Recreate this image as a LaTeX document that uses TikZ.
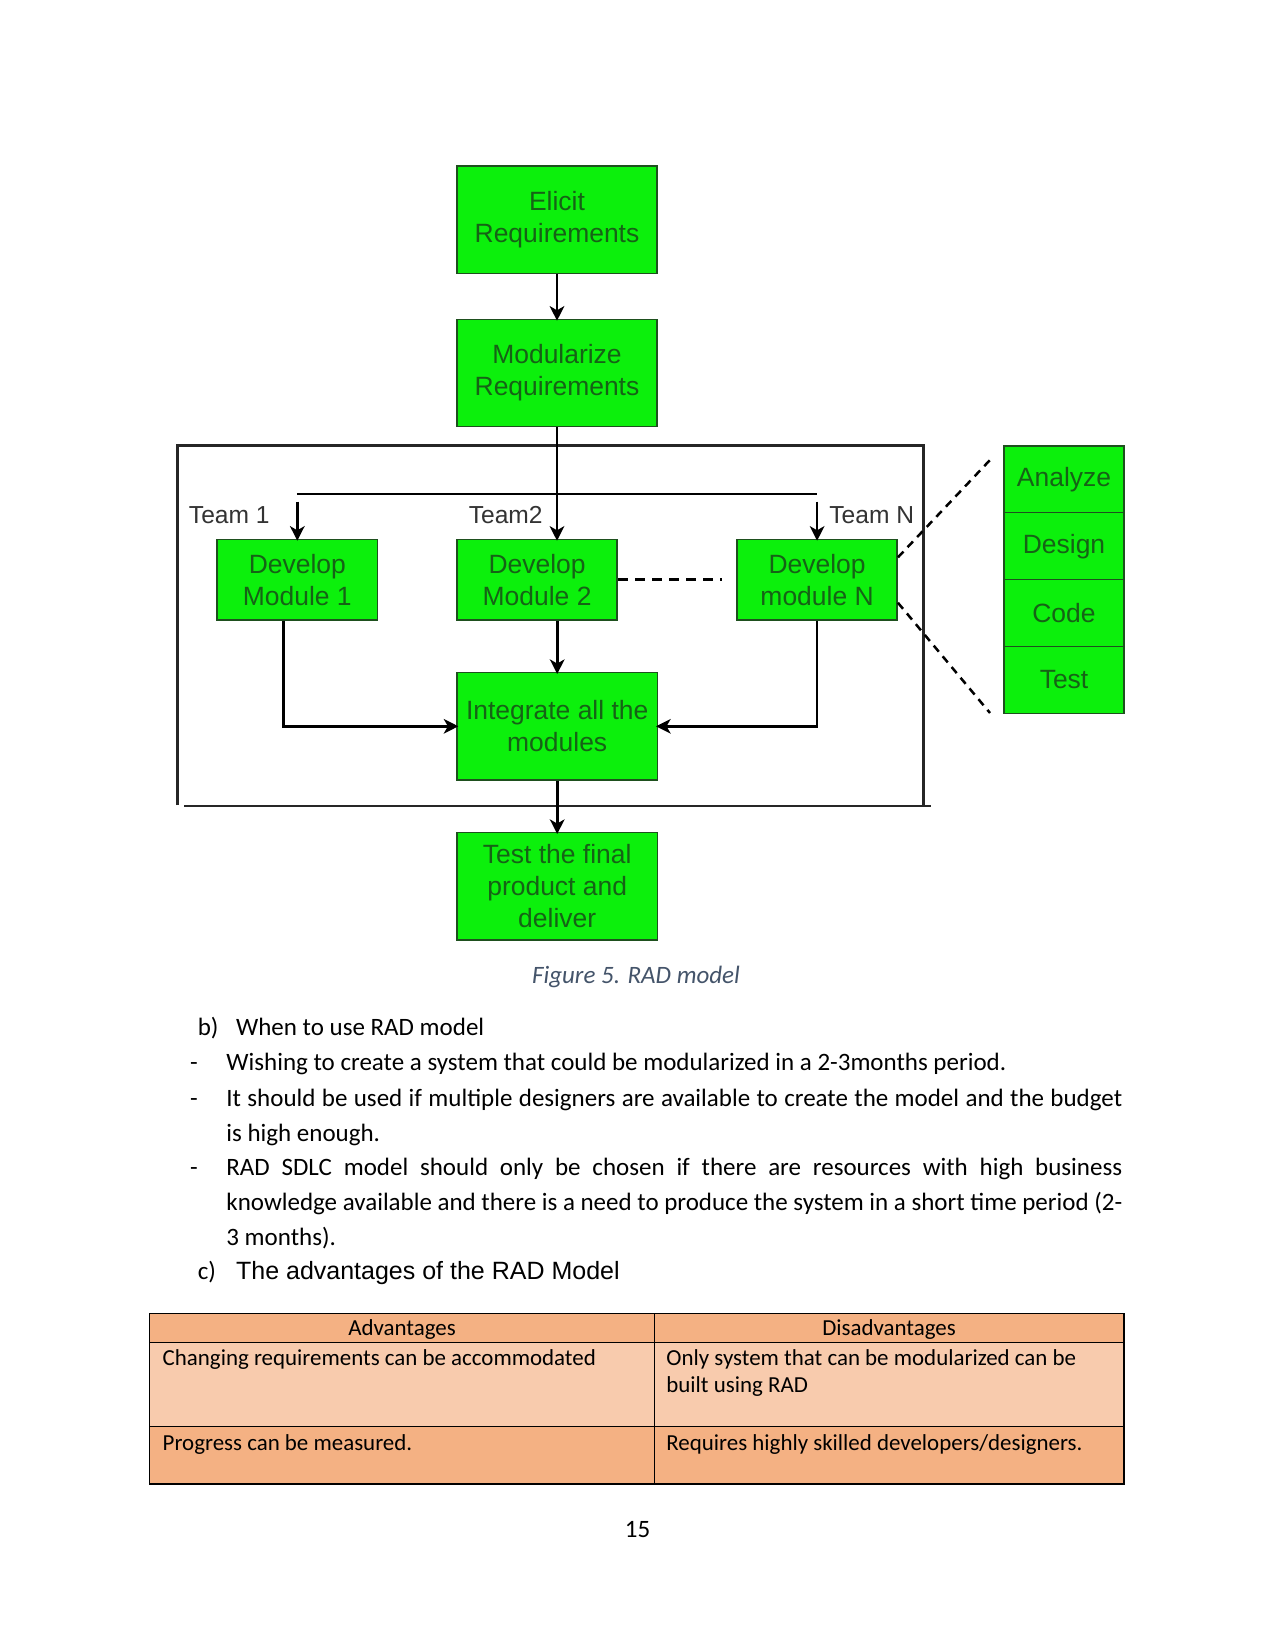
\documentclass[tikz,border=0pt]{standalone}
\usepackage{fontspec}
\setmainfont{Carlito}
\newfontfamily\diagfont{Liberation Sans}
\usetikzlibrary{arrows.meta,calc}
\definecolor{gfill}{RGB}{12,240,12}
\definecolor{gline}{RGB}{30,80,30}
\definecolor{gtext}{RGB}{22,98,22}
\definecolor{teamtext}{RGB}{51,51,51}
\definecolor{captext}{RGB}{68,84,106}
\definecolor{thead}{RGB}{244,177,131}
\definecolor{tlight}{RGB}{248,203,173}
\begin{document}
\begin{tikzpicture}[x=0.48pt,y=-0.48pt,
  gbox/.style={draw=gline, fill=gfill, line width=0.7pt, text=gtext,
    font=\diagfont\fontsize{12.7pt}{15.4pt}\selectfont, align=center, inner sep=0pt},
  bigbox/.style={gbox, minimum width=96.2pt, minimum height=51.5pt},
  devbox/.style={gbox, minimum width=76.9pt, minimum height=38.7pt},
  cellbox/.style={gbox, minimum width=57.6pt, minimum height=32.1pt},
  flow/.style={line width=1.3pt, -{Stealth[length=7pt,width=7pt,inset=2pt]}, shorten >=-1pt},
  wire/.style={line width=1.3pt},
  framestyle/.style={line width=1.3pt, draw=black!85},
  teamlbl/.style={font=\diagfont\fontsize{11.8pt}{14pt}\selectfont, text=teamtext, inner sep=0pt},
  dashA/.style={line width=1.2pt, dash pattern=on 4.8pt off 3.4pt},
  dashB/.style={line width=1.2pt, dash pattern=on 3.8pt off 2.9pt},
  body/.style={font=\fontsize{12pt}{16.8pt}\selectfont, inner sep=0pt},
  para/.style={body, text width=430pt, align=justify},
  headc/.style={font=\diagfont\fontsize{12pt}{14pt}\selectfont, inner sep=0pt},
  capstyle/.style={font=\fontsize{12pt}{14pt}\selectfont\itshape, text=captext, inner sep=0pt},
  tabtxt/.style={font=\fontsize{11pt}{13.4pt}\selectfont, inner sep=0pt},
  tline/.style={line width=0.6pt, draw=black}
]
\useasboundingbox (0,0) rectangle (1275,1651);
\fill[white] (0,0) rectangle (1275,1651);

% ---------- diagram boxes ----------
\node[bigbox] (elicit) at (557,219.7) {Elicit\\Requirements};
\node[bigbox] (modul) at (557,373) {Modularize\\Requirements};
\node[devbox] (dev1) at (297.3,579.7) {Develop\\Module 1};
\node[devbox] (dev2) at (537.1,579.7) {Develop\\Module 2};
\node[devbox] (devN) at (817.1,579.7) {Develop\\module N};
\node[bigbox] (integ) at (557.2,726.3) {Integrate all the\\modules};
\node[bigbox] (test) at (557.2,886.3) {Test the final\\product and\\deliver};

\node[cellbox] (analyze) at (1064,479.4) {Analyze};
\node[cellbox] (design) at (1064,546.2) {Design};
\node[cellbox] (code) at (1064,613) {Code};
\node[cellbox] (testc) at (1064,679.9) {Test};

% ---------- frame ----------
\draw[framestyle] (177.4,805) -- (177.4,445.7) -- (923.5,445.7) -- (923.5,806);
\draw[framestyle] (184,806) -- (931,806);

% ---------- connectors ----------
\draw[flow] (elicit) -- (modul);
\draw[flow] (modul.south) -- (modul.south |- dev2.north);
\coordinate (barL) at (296.8,494);
\coordinate (barR) at (817.1,494);
\draw[wire] (barL) -- (barR);
\coordinate (t1) at (297.3,501.5);
\coordinate (tN) at (817.1,501.5);
\draw[flow] (t1) -- (dev1.north);
\draw[flow] (tN) -- (devN.north);
\coordinate (dashEnd) at (722,579.7);
\draw[dashA] (dev2.east) -- (dashEnd);
\draw[flow] ($(dev1.south)+(-14,0)$) |- (integ.west);
\draw[flow] (devN.south) |- (integ.east);
\draw[flow] (integ.north |- dev2.south) -- (integ.north);
\draw[flow] (integ) -- (test);
\coordinate (zu) at (990,460);
\coordinate (zl) at (990,713);
\draw[dashB] ($(devN.north east)+(0,18.7)$) -- (zu);
\draw[dashB] ($(devN.south east)+(0,-18)$) -- (zl);

% ---------- team labels ----------
\node[teamlbl, anchor=base east] (team1) at (270,523) {Team 1};
\node[teamlbl, anchor=base east] (team2) at (543,523) {Team2};
\node[teamlbl, anchor=base west] (teamN) at (829,523) {Team N};

% ---------- caption ----------
\node[capstyle, anchor=base] (cap) at (636,983) {Figure 5. RAD model};

% ---------- body text ----------
\node[body, anchor=base west] (lb) at (197.4,1035) {b)};
\node[body, anchor=base west] (hb) at (235.7,1035) {When to use RAD model};
\node[body, anchor=base west] (d1) at (189.7,1070.7) {-};
\node[para, anchor=base west] (p1) at (226,1070.7) {Wishing to create a system that could be modularized in a 2-3months period.};
\node[body, anchor=base west] (d2) at (189.7,1106) {-};
\node[para, anchor=base west] (p2) at (226,1106) {It should be used if multiple designers are available to create the model and the budget\linebreak is high enough.};
\node[body, anchor=base west] (d3) at (189.7,1175.7) {-};
\node[para, anchor=base west] (p3) at (226,1175.7) {RAD SDLC model should only be chosen if there are resources with high business\linebreak knowledge available and there is a need to produce the system in a short time period (2-\linebreak 3 months).};
\node[body, anchor=base west] (lc) at (197.4,1279.3) {c)};
\node[headc, anchor=base west] (hc) at (235.7,1279.3) {The advantages of the RAD Model};

% ---------- table ----------
\fill[thead] (149.7,1313.3) rectangle (1124,1342.3);
\fill[tlight] (149.7,1342.3) rectangle (1124,1426.7);
\fill[thead] (149.7,1426.7) rectangle (1124,1484);
\draw[tline] (149.7,1313.3) rectangle (1124,1484);
\draw[tline] (149.7,1342.3) -- (1124,1342.3);
\draw[tline] (149.7,1426.7) -- (1124,1426.7);
\draw[tline] (654.7,1313.3) -- (654.7,1484);

\node[tabtxt, anchor=base] (th1) at (402,1335) {Advantages};
\node[tabtxt, anchor=base] (th2) at (889,1335) {Disadvantages};
\node[tabtxt, anchor=base west] (a1) at (162.3,1365) {Changing requirements can be accommodated};
\node[tabtxt, anchor=base west] (b1a) at (666,1365) {Only system that can be modularized can be};
\node[tabtxt, anchor=base west] (b1b) at (666,1392.7) {built using RAD};
\node[tabtxt, anchor=base west] (a2) at (162.3,1450) {Progress can be measured.};
\node[tabtxt, anchor=base west] (b2) at (666,1450) {Requires highly skilled developers/designers.};

% ---------- page number ----------
\node[body, anchor=base] (pg) at (637.5,1537) {15};
\end{tikzpicture}
\end{document}
